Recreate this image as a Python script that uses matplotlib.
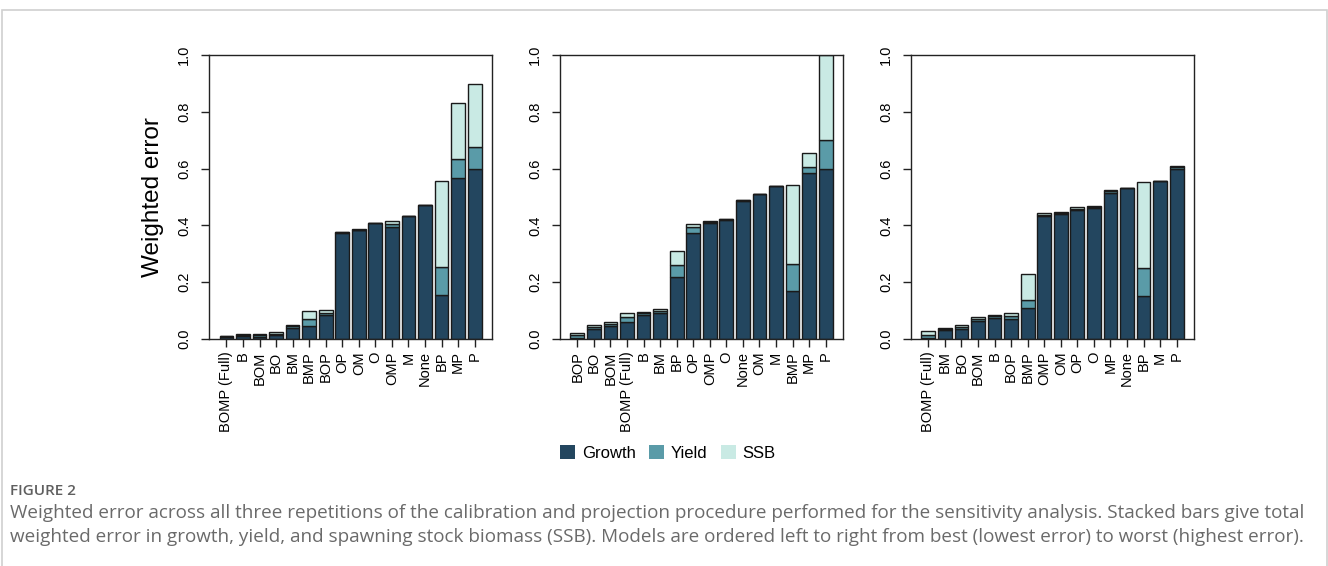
import numpy as np
import matplotlib.pyplot as plt
from matplotlib.patches import Rectangle, Patch

plt.rcParams['font.family'] = ['Liberation Sans', 'DejaVu Sans']

# colours for the three error components
col_growth = '#23465f'
col_yield = '#5a9ba8'
col_ssb = '#c9eae4'

# run 1
labels1 = ['BOMP (Full)', 'B', 'BOM', 'BO', 'BM', 'BMP', 'BOP', 'OP', 'OM', 'O',
           'OMP', 'M', 'None', 'BP', 'MP', 'P']
growth1 = [0.007, 0.010, 0.008, 0.014, 0.040, 0.046, 0.083, 0.372, 0.383, 0.408,
           0.393, 0.432, 0.470, 0.156, 0.568, 0.599]
yield1 = [0.003, 0.004, 0.005, 0.005, 0.005, 0.023, 0.010, 0.003, 0.002, 0.001,
          0.012, 0.001, 0.001, 0.099, 0.065, 0.076]
ssb1 = [0.002, 0.002, 0.003, 0.004, 0.003, 0.030, 0.009, 0.002, 0.001, 0.001,
        0.010, 0.001, 0.001, 0.302, 0.199, 0.224]

# run 2
labels2 = ['BOP', 'BO', 'BOM', 'BOMP (Full)', 'B', 'BM', 'BP', 'OP', 'OMP', 'O',
           'None', 'OM', 'M', 'BMP', 'MP', 'P']
growth2 = [0.005, 0.036, 0.045, 0.060, 0.085, 0.090, 0.219, 0.372, 0.408, 0.420,
           0.487, 0.510, 0.537, 0.169, 0.583, 0.599]
yield2 = [0.010, 0.007, 0.008, 0.017, 0.006, 0.010, 0.042, 0.021, 0.004, 0.002,
          0.001, 0.001, 0.001, 0.094, 0.022, 0.101]
ssb2 = [0.007, 0.005, 0.006, 0.013, 0.005, 0.007, 0.050, 0.012, 0.002, 0.001,
        0.001, 0.001, 0.001, 0.280, 0.051, 0.300]

# run 3
labels3 = ['BOMP (Full)', 'BM', 'BO', 'BOM', 'B', 'BOP', 'BMP', 'OMP', 'OM', 'OP',
           'O', 'MP', 'None', 'BP', 'M', 'P']
growth3 = [0.003, 0.030, 0.036, 0.063, 0.075, 0.071, 0.109, 0.432, 0.440, 0.453,
           0.462, 0.514, 0.530, 0.150, 0.555, 0.599]
yield3 = [0.012, 0.006, 0.007, 0.008, 0.006, 0.009, 0.029, 0.006, 0.004, 0.006,
          0.004, 0.007, 0.001, 0.099, 0.001, 0.006]
ssb3 = [0.013, 0.004, 0.005, 0.006, 0.005, 0.010, 0.091, 0.004, 0.002, 0.005,
        0.002, 0.005, 0.001, 0.302, 0.001, 0.003]

runs = [(labels1, growth1, yield1, ssb1),
        (labels2, growth2, yield2, ssb2),
        (labels3, growth3, yield3, ssb3)]

fig = plt.figure(figsize=(13.28, 5.66), dpi=100)

# light frame round the figure
fig.patches.append(Rectangle((0.0015, -0.05), 0.9975, 1.032, transform=fig.transFigure,
                             fill=False, edgecolor='#d0d0d0', linewidth=1.2))

lefts = [0.1574, 0.4217, 0.6860]
for k, (lab, g, y, s) in enumerate(runs):
    ax = fig.add_axes([lefts[k], 0.4011, 0.2131, 0.5018])
    g = np.array(g); y = np.array(y); s = np.array(s)
    # barplot-like positions: width 1, space 0.2
    x = 0.7 + 1.2 * np.arange(len(lab))
    kw = dict(width=1.0, edgecolor='#1a1a1a', linewidth=1.0)
    ax.bar(x, g, color=col_growth, **kw)
    ax.bar(x, y, bottom=g, color=col_yield, **kw)
    ax.bar(x, s, bottom=g + y, color=col_ssb, **kw)
    ax.set_xlim(-0.56, 19.96)
    ax.set_ylim(0, 1.0)
    ax.set_xticks(x)
    ax.set_xticklabels(lab, rotation=90, fontsize=10.5)
    ax.set_yticks([0, 0.2, 0.4, 0.6, 0.8, 1.0])
    ax.set_yticklabels(['0.0', '0.2', '0.4', '0.6', '0.8', '1.0'],
                       rotation=90, va='center', fontsize=10.5)
    ax.tick_params(axis='x', length=6, width=1.0, pad=3, color='#222222')
    ax.tick_params(axis='y', length=6, width=1.0, pad=7, color='#222222')
    for sp in ax.spines.values():
        sp.set_linewidth(1.0)
        sp.set_color('#222222')
    if k == 0:
        ax.set_ylabel('Weighted error', fontsize=17.5, labelpad=9)

handles = [Patch(facecolor=col_growth, edgecolor='none'),
           Patch(facecolor=col_yield, edgecolor='none'),
           Patch(facecolor=col_ssb, edgecolor='none')]
fig.legend(handles, ['Growth', 'Yield', 'SSB'], loc='center', ncol=3,
           bbox_to_anchor=(0.503, 0.1996), frameon=False, fontsize=12,
           handlelength=0.9, handleheight=0.9, handletextpad=0.4,
           columnspacing=0.8)

fig.text(0.0075, 1 - 491 / 566, 'FIGURE 2', fontsize=11, color='#5f5f5f',
         family='Open Sans', weight='semibold', va='center')
fig.text(0.0075, 1 - 513 / 566,
         'Weighted error across all three repetitions of the calibration and projection '
         'procedure performed for the sensitivity analysis. Stacked bars give total',
         fontsize=13.6, color='#6a6a6a', family='Open Sans', va='center')
fig.text(0.0075, 1 - 537 / 566,
         'weighted error in growth, yield, and spawning stock biomass (SSB). Models are '
         'ordered left to right from best (lowest error) to worst (highest error).',
         fontsize=13.6, color='#6a6a6a', family='Open Sans', va='center')

fig.savefig('out.png', dpi=100)
